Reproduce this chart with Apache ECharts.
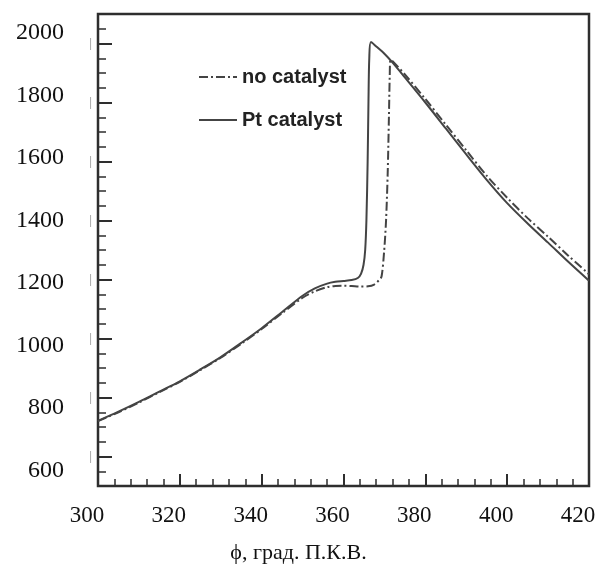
<!DOCTYPE html>
<html>
<head>
<meta charset="utf-8">
<script src="https://cdn.jsdelivr.net/npm/echarts@6/dist/echarts.min.js"></script>
<style>
html,body{margin:0;padding:0;background:#fff;}
#chart{width:597px;height:565px;}
</style>
</head>
<body>
<div id="chart"></div>
<script>
// ---- data ----
var xTicks = [300, 320, 340, 360, 380, 400, 420];
var yTicks = [600, 800, 1000, 1200, 1400, 1600, 1800, 2000];
var seriesNames = ['no catalyst', 'Pt catalyst'];

var phiNo = [300, 305, 310, 315, 320, 325, 330, 335, 340, 345, 350, 353, 356, 358, 360, 362, 364, 366, 367.5, 368.7, 369.3, 369.9, 370.4, 370.8, 371.1, 371.3, 371.5, 372, 375, 380, 385, 390, 395, 400, 405, 410, 415, 420];
var tempNo = [720, 750, 783, 818, 853, 893, 935, 982, 1032, 1086, 1138, 1160, 1174, 1178, 1179, 1178, 1176, 1177, 1183, 1198, 1210, 1290, 1400, 1560, 1750, 1890, 1945, 1940, 1895, 1812, 1725, 1638, 1552, 1477, 1408, 1345, 1280, 1218];

var phiPt = [300, 305, 310, 315, 320, 325, 330, 335, 340, 345, 350, 353, 356, 358, 360, 362, 363.5, 364.3, 364.9, 365.3, 365.6, 365.9, 366.1, 366.3, 366.7, 368, 370, 372, 375, 380, 385, 390, 395, 400, 405, 410, 415, 420];
var tempPt = [721, 752, 785, 820, 855, 895, 937, 985, 1035, 1090, 1145, 1170, 1186, 1192, 1195, 1198, 1205, 1220, 1250, 1300, 1400, 1600, 1800, 1950, 2005, 1990, 1965, 1935, 1885, 1800, 1712, 1624, 1538, 1459, 1390, 1325, 1259, 1196];

function zip(a, b) { return a.map(function (v, i) { return [v, b[i]]; }); }

var chart = echarts.init(document.getElementById('chart'), null, {renderer: 'canvas'});
var frame = '#2e2e2e';
var serif = '"Liberation Serif", "Times New Roman", serif';

chart.setOption({
  animation: false,
  backgroundColor: '#fff',
  grid: {left: 98, right: 8, top: 14, bottom: 79, show: true, borderColor: frame, borderWidth: 2.5, backgroundColor: 'transparent', outerBoundsMode: 'none', containLabel: false},
  legend: {
    data: seriesNames,
    orient: 'vertical',
    left: 193, top: 62,
    itemWidth: 38, itemHeight: 14, itemGap: 23,
    itemStyle: {opacity: 0},
    textStyle: {fontFamily: '"Liberation Sans", Arial, sans-serif', fontWeight: 'bold', fontSize: 20, color: '#222'}
  },
  xAxis: [{
    type: 'value', min: 300, max: 420, interval: 20,
    axisLine: {show: false},
    axisTick: {show: true, inside: true, length: 12, lineStyle: {color: frame, width: 2}},
    minorTick: {show: true, splitNumber: 5, length: 7, lineStyle: {color: frame, width: 1.5}},
    splitLine: {show: false},
    axisLabel: {customValues: xTicks, fontFamily: serif, fontSize: 23, color: '#111', margin: 18, padding: [0, 22, 0, 0]},
    name: 'ϕ, град. П.К.В.', nameLocation: 'middle', nameGap: 56,
    nameTextStyle: {fontFamily: serif, fontSize: 22, color: '#111', padding: [0, 90, 0, 0]}
  }],
  yAxis: [{
    type: 'value', min: 500, max: 2100, interval: 50,
    axisLine: {show: false},
    axisTick: {show: true, inside: true, length: 8, lineStyle: {color: frame, width: 1.5}},
    axisLabel: {show: false},
    splitLine: {show: false}
  }, {
    type: 'value', min: 500, max: 2100, position: 'left',
    axisLine: {show: false},
    axisTick: {show: true, inside: true, length: 14, customValues: yTicks, lineStyle: {color: frame, width: 2}},
    axisLabel: {show: true, customValues: yTicks, formatter: function () { return '|'; }, fontSize: 12, color: '#aaa', margin: 6},
    splitLine: {show: false}
  }, {
    type: 'value', min: 550.5, max: 2059.8, position: 'left',
    axisLine: {show: false},
    axisTick: {show: false},
    axisLabel: {show: true, customValues: yTicks, formatter: function (v) { return String(v); }, fontFamily: serif, fontSize: 24, color: '#111', margin: 34},
    splitLine: {show: false}
  }],
  series: [{
    name: seriesNames[0], type: 'line', xAxisIndex: 0, yAxisIndex: 0,
    data: zip(phiNo, tempNo), symbol: 'none', showSymbol: false,
    smooth: 0.3,
    lineStyle: {color: '#444', width: 2, type: [9, 3, 2, 3]},
    itemStyle: {color: '#444'}
  }, {
    name: seriesNames[1], type: 'line', xAxisIndex: 0, yAxisIndex: 0,
    data: zip(phiPt, tempPt), symbol: 'none', showSymbol: false,
    smooth: 0.3,
    lineStyle: {color: '#444', width: 2, type: 'solid'},
    itemStyle: {color: '#444'}
  }]
});
</script>
</body>
</html>
